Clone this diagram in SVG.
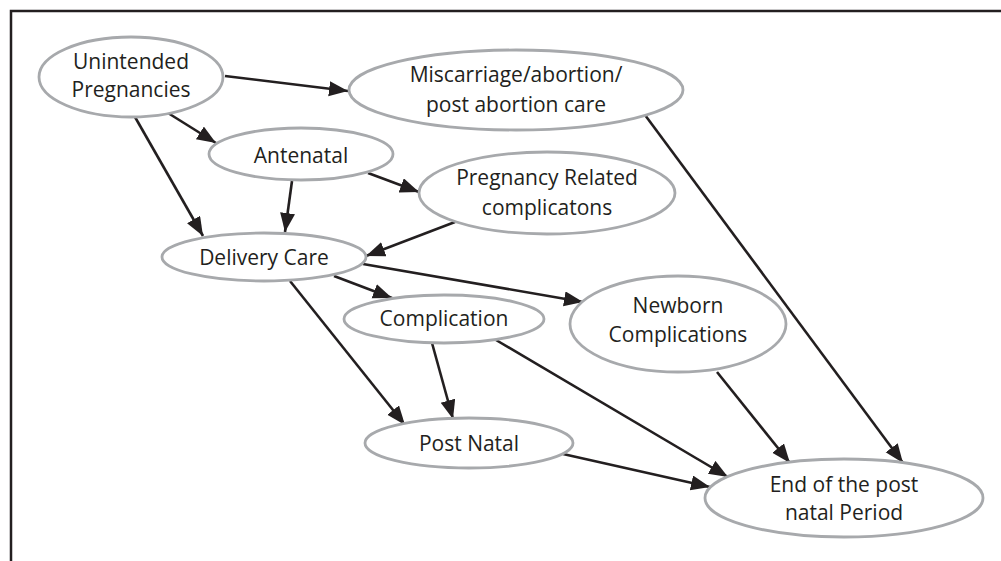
<svg xmlns="http://www.w3.org/2000/svg" width="1001" height="561" viewBox="0 0 1001 561">
<defs>
<style>
.node ellipse{fill:#ffffff;stroke:#a7a9ac;stroke-width:2.8}
.node text{font-family:"Open Sans","Liberation Sans",sans-serif;font-size:21px;fill:#231f20;text-anchor:middle}
.edges line{stroke:#231f20;stroke-width:2.6;marker-end:url(#arr)}
</style>
<marker id="arr" markerUnits="userSpaceOnUse" markerWidth="22" markerHeight="18" refX="19" refY="7.5" orient="auto">
<path d="M0,0 L19,7.5 L0,15 z" fill="#231f20"/>
</marker>
</defs>
<rect width="1001" height="561" fill="#ffffff"/>
<path d="M11,561 V11 H1001" fill="none" stroke="#231f20" stroke-width="2.5"/>
<g class="edges">
<line x1="225" y1="76" x2="348" y2="91"/>
<line x1="168" y1="113" x2="216" y2="143"/>
<line x1="135" y1="117" x2="203" y2="236"/>
<line x1="292" y1="181" x2="285" y2="232"/>
<line x1="368" y1="173" x2="419" y2="192"/>
<line x1="455" y1="222" x2="366" y2="256"/>
<line x1="363" y1="264" x2="583" y2="302"/>
<line x1="334" y1="276" x2="392" y2="298"/>
<line x1="290" y1="281" x2="405" y2="425"/>
<line x1="432" y1="343" x2="453" y2="419"/>
<line x1="496" y1="340" x2="728" y2="477"/>
<line x1="563" y1="454" x2="710" y2="487"/>
<line x1="717" y1="372" x2="790" y2="463"/>
<line x1="645" y1="115" x2="903" y2="463"/>
</g>
<g class="node" id="unintended">
<ellipse cx="131" cy="77" rx="92" ry="40"/>
<text x="131" y="69">Unintended</text>
<text x="131" y="97">Pregnancies</text>
</g>
<g class="node" id="miscarriage">
<ellipse cx="516" cy="90" rx="167" ry="40"/>
<text x="516" y="82">Miscarriage/abortion/</text>
<text x="516" y="112">post abortion care</text>
</g>
<g class="node" id="antenatal">
<ellipse cx="301" cy="154" rx="92" ry="26"/>
<text x="301" y="163">Antenatal</text>
</g>
<g class="node" id="pregnancy">
<ellipse cx="547" cy="193" rx="128" ry="41"/>
<text x="547" y="185">Pregnancy Related</text>
<text x="547" y="215">complicatons</text>
</g>
<g class="node" id="delivery">
<ellipse cx="264" cy="257" rx="102" ry="24"/>
<text x="264" y="265">Delivery Care</text>
</g>
<g class="node" id="complication">
<ellipse cx="444" cy="319" rx="100" ry="24"/>
<text x="444" y="326">Complication</text>
</g>
<g class="node" id="postnatal">
<ellipse cx="469" cy="443" rx="104" ry="25"/>
<text x="469" y="451">Post Natal</text>
</g>
<g class="node" id="newborn">
<ellipse cx="678" cy="324" rx="108" ry="48"/>
<text x="678" y="313">Newborn</text>
<text x="678" y="342">Complications</text>
</g>
<g class="node" id="end">
<ellipse cx="844" cy="498" rx="139" ry="39"/>
<text x="844" y="492">End of the post</text>
<text x="844" y="520">natal Period</text>
</g>
</svg>
